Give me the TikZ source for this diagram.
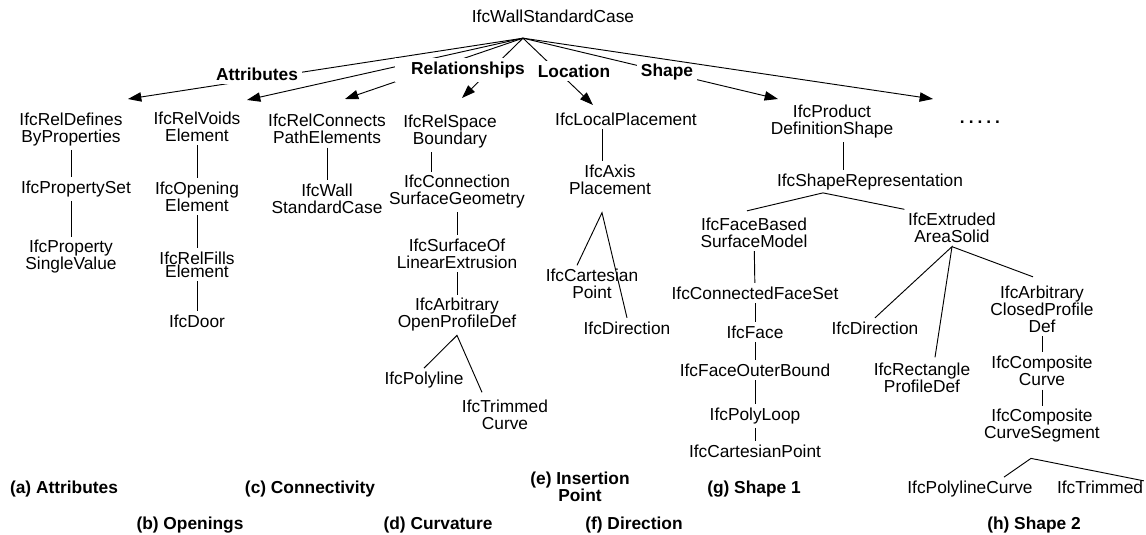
\documentclass[tikz,border=0pt]{standalone}
\usepackage{fontspec}
\setmainfont{Liberation Sans}
\usetikzlibrary{arrows.meta,calc}

\begin{document}
\begin{tikzpicture}[x=0.75pt,y=-0.75pt,line width=0.7pt,
    ent/.style={align=center,inner sep=2.5pt,font=\fontsize{13}{12.75}\selectfont},
    lbl/.style={fill=white,inner sep=3pt,font=\fontsize{13}{12.75}\selectfont\bfseries},
    capt/.style={align=center,inner sep=1pt,font=\fontsize{13}{12.75}\selectfont\bfseries},
    arr/.style={-{Triangle[length=10pt,width=7pt]}}]
  \useasboundingbox (0,0) rectangle (1146,535);

  \node[ent] (root) at (553,16) {IfcWallStandardCase};
  \coordinate (hub) at ($(root.south)+(-30,12)$);

  % (a) (b) (c)
  \node[ent] (rdbp) at (71,129.5) {IfcRelDefines\\ByProperties};
  \node[ent] (pset) at (76,189) {IfcPropertySet};
  \node[ent] (psv) at (71,257) {IfcProperty\\SingleValue};
  \node[ent] (rve) at (197,126.5) {IfcRelVoids\\Element};
  \node[ent] (oe) at (197,196.5) {IfcOpening\\Element};
  \node[ent] (rfe) at (197,264.5) {IfcRelFills\\[-3pt]Element};
  \node[ent] (door) at (197,321) {IfcDoor};
  \node[ent] (rcpe) at (327,129) {IfcRelConnects\\PathElements};
  \node[ent] (wsc) at (327,198.5) {IfcWall\\StandardCase};

  % (d)
  \node[ent] (rsb) at (450,132) {IfcRelSpace\\Boundary};
  \node[ent] (csg) at (457,192) {IfcConnection\\SurfaceGeometry};
  \node[ent] (sole) at (457,253.5) {IfcSurfaceOf\\LinearExtrusion};
  \node[ent] (aopd) at (457,315) {IfcArbitrary\\OpenProfileDef};
  \node[ent] (pline) at (424,380) {IfcPolyline};
  \node[ent] (tcurve) at (505,415) {IfcTrimmed\\Curve};

  % (e) (f)
  \node[ent] (lp) at (626,119) {IfcLocalPlacement};
  \node[ent] (axp) at (610,180) {IfcAxis\\Placement};
  \node[ent] (cpt) at (592,284) {IfcCartesian\\Point};
  \node[ent] (dira) at (627,328) {IfcDirection};

  % (g)
  \node[ent] (pds) at (832,122) {IfcProduct\\DefinitionShape};
  \node[ent] (srep) at (870,182) {IfcShapeRepresentation};
  \node[ent] (fbsm) at (754,232.5) {IfcFaceBased\\SurfaceModel};
  \node[ent] (cfs) at (755,293) {IfcConnectedFaceSet};
  \node[ent] (face) at (755,332) {IfcFace};
  \node[ent] (fob) at (755,370) {IfcFaceOuterBound};
  \node[ent] (ploop) at (755,416) {IfcPolyLoop};
  \node[ent] (cpt2) at (755,451) {IfcCartesianPoint};

  % (h)
  \node[ent] (eas) at (952,228) {IfcExtruded\\AreaSolid};
  \node[ent] (dirb) at (875,328) {IfcDirection};
  \node[ent] (rpd) at (922,378) {IfcRectangle\\ProfileDef};
  \node[ent] (acpd) at (1042,309) {IfcArbitrary\\ClosedProfile\\Def};
  \node[ent] (ccurve) at (1042,371) {IfcComposite\\Curve};
  \node[ent] (ccs) at (1042,426) {IfcComposite\\CurveSegment};
  \node[ent] (plc) at (970,489) {IfcPolylineCurve};
  \node[ent] (trim) at (1100,487) {IfcTrimmed};
  \node[ent,font=\fontsize{13}{12.75}\selectfont\bfseries] (more) at (980,122) {.\kern3pt.\kern3pt.\kern3pt.\kern3pt.};

  % arrows from the wall
  \coordinate (tipa) at (128,99);
  \coordinate (tipb) at (247,100);
  \coordinate (tipc) at (345,99);
  \coordinate (tipd) at (462,98);
  \coordinate (tipe) at (593,105);
  \coordinate (tipf) at (778,99);
  \coordinate (tipg) at (933,99);
  \foreach \t in {tipa,tipb,tipc,tipd,tipe,tipf}
    \draw[arr] (hub) -- (\t);
  \node[lbl] (attr) at (257,74) {Attributes};
  \node[lbl,inner xsep=12pt] (rel) at (468,70) {Relationships};
  \node[lbl] (loc) at (574,71) {Location};
  \node[lbl] (shp) at (667,72.5) {Shape};
  \draw[arr] (hub) -- (tipg);

  % trees
  \draw (rdbp.south) -- (rdbp.south |- pset.north);
  \draw (psv.north |- pset.south) -- (psv.north);
  \foreach \a/\b in {rve/oe,oe/rfe,rfe/door,rcpe/wsc,csg/sole,sole/aopd,
      fbsm/cfs,cfs/face,face/fob,fob/ploop,ploop/cpt2,acpd/ccurve,ccurve/ccs}
    \draw (\a) -- (\b);
  \draw ($(rsb.south)+(-19,0)$) -- ($(rsb.south |- csg.north)+(-19,0)$);
  \draw (pline.north) -- (aopd.south) -- ($(tcurve.north)+(-23,-4)$);
  \draw ($(lp.south)+(-24,0)$) -- ($(lp.south |- axp.north)+(-24,0)$);
  \draw ($(cpt.north)+(-15,0)$) -- ($(axp.south)+(-8,14)$) -- (dira.north);
  \draw ($(pds.south)+(11,0)$) -- ($(pds.south |- srep.north)+(11,0)$);
  \draw ($(fbsm.north)+(-7,-3)$) -- ($(srep.south)+(-47,-1)$) -- (eas.north west);
  \draw (dirb.north) -- (eas.south) -- ($(rpd.north)+(13,-2)$);
  \draw (eas.south) -- ($(acpd.north)+(-9,-5)$);
  \coordinate (fork) at ($(ccs.south)+(-11,12)$);
  \draw ($(plc.north)+(34,0)$) -- (fork) -- ($(trim.north east)+(-3,4)$);

  % captions
  \node[capt] (capa) at (64,489) {(a) Attributes};
  \node[capt] (capb) at (190,525) {(b) Openings};
  \node[capt] (capc) at (310,489) {(c) Connectivity};
  \node[capt] (capd) at (438,525) {(d) Curvature};
  \node[capt] (cape) at (580,487) {(e) Insertion\\Point};
  \node[capt] (capf) at (634,525) {(f) Direction};
  \node[capt] (capg) at (754,489) {(g) Shape 1};
  \node[capt] (caph) at (1034,525) {(h) Shape 2};
\end{tikzpicture}
\end{document}
